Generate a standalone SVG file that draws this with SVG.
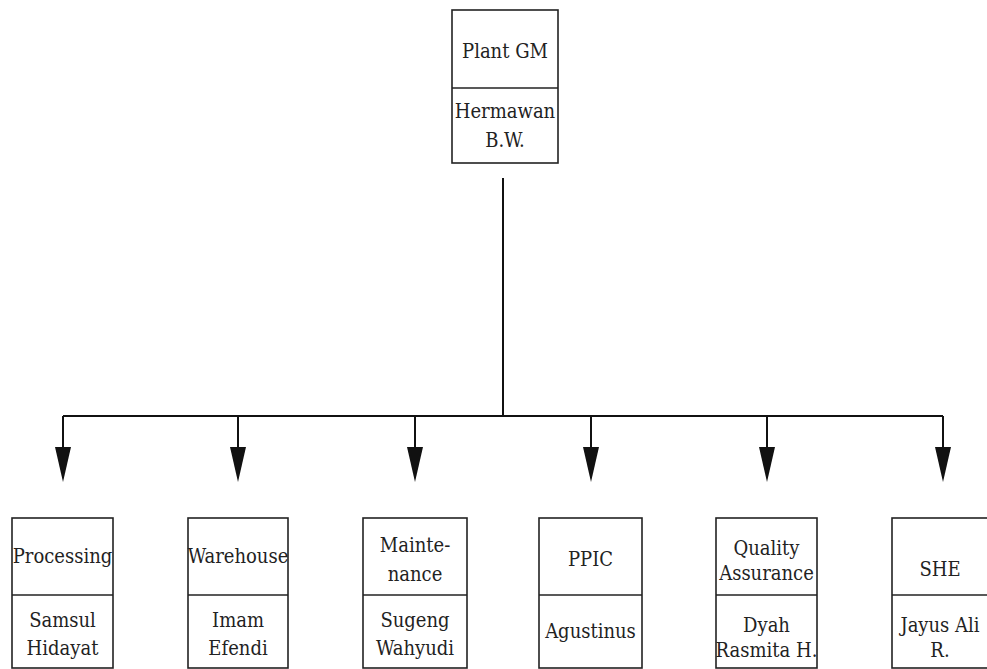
<svg xmlns="http://www.w3.org/2000/svg" width="987" height="669" viewBox="0 0 987 669">
<style>
.box{fill:#fff;stroke:#222;stroke-width:1.6}
.div{stroke:#222;stroke-width:1.6}
text{font-family:"DejaVu Serif Condensed","DejaVu Serif",serif;font-stretch:condensed;font-size:20px;fill:#222;text-anchor:middle}
.ln{stroke:#111;stroke-width:2;fill:none}
</style>
<defs>
<marker id="ah" markerUnits="userSpaceOnUse" markerWidth="40" markerHeight="20" refX="0" refY="0" orient="auto" viewBox="0 -10 40 20" overflow="visible">
<path d="M0,-8 L0,8 L35,0 Z" fill="#111"/>
</marker>
</defs>
<rect width="987" height="669" fill="#fff"/>
<g id="connectors">
<path class="ln" d="M503,178 V416"/>
<path class="ln" d="M63,416 H943"/>
<path class="ln" d="M63,416 V447" marker-end="url(#ah)"/>
<path class="ln" d="M238,416 V447" marker-end="url(#ah)"/>
<path class="ln" d="M415,416 V447" marker-end="url(#ah)"/>
<path class="ln" d="M591,416 V447" marker-end="url(#ah)"/>
<path class="ln" d="M767,416 V447" marker-end="url(#ah)"/>
<path class="ln" d="M943,416 V447" marker-end="url(#ah)"/>
</g>
<g id="plant-gm">
<rect class="box" x="452" y="10" width="106" height="153"/>
<line class="div" x1="452" y1="88" x2="558" y2="88"/>
<text x="505" y="58">Plant GM</text>
<text x="505" y="118">Hermawan</text>
<text x="505" y="147">B.W.</text>
</g>
<g id="processing">
<rect class="box" x="12" y="518" width="101" height="150"/>
<line class="div" x1="12" y1="595" x2="113" y2="595"/>
<text x="62.5" y="563">Processing</text>
<text x="62.5" y="627">Samsul</text>
<text x="62.5" y="655">Hidayat</text>
</g>
<g id="warehouse">
<rect class="box" x="188" y="518" width="100" height="150"/>
<line class="div" x1="188" y1="595" x2="288" y2="595"/>
<text x="238" y="563">Warehouse</text>
<text x="238" y="627">Imam</text>
<text x="238" y="655">Efendi</text>
</g>
<g id="maintenance">
<rect class="box" x="363" y="518" width="104" height="150"/>
<line class="div" x1="363" y1="595" x2="467" y2="595"/>
<text x="415" y="552">Mainte-</text>
<text x="415" y="581">nance</text>
<text x="415" y="627">Sugeng</text>
<text x="415" y="655">Wahyudi</text>
</g>
<g id="ppic">
<rect class="box" x="539" y="518" width="103" height="150"/>
<line class="div" x1="539" y1="595" x2="642" y2="595"/>
<text x="590.5" y="566">PPIC</text>
<text x="590.5" y="638">Agustinus</text>
</g>
<g id="quality-assurance">
<rect class="box" x="716" y="518" width="101" height="150"/>
<line class="div" x1="716" y1="595" x2="817" y2="595"/>
<text x="766.5" y="555">Quality</text>
<text x="766.5" y="580">Assurance</text>
<text x="766.5" y="632">Dyah</text>
<text x="766.5" y="657">Rasmita H.</text>
</g>
<g id="she">
<rect class="box" x="892" y="518" width="102" height="150"/>
<line class="div" x1="892" y1="595" x2="994" y2="595"/>
<text x="940" y="576">SHE</text>
<text x="940" y="632">Jayus Ali</text>
<text x="940" y="657">R.</text>
</g>
</svg>
